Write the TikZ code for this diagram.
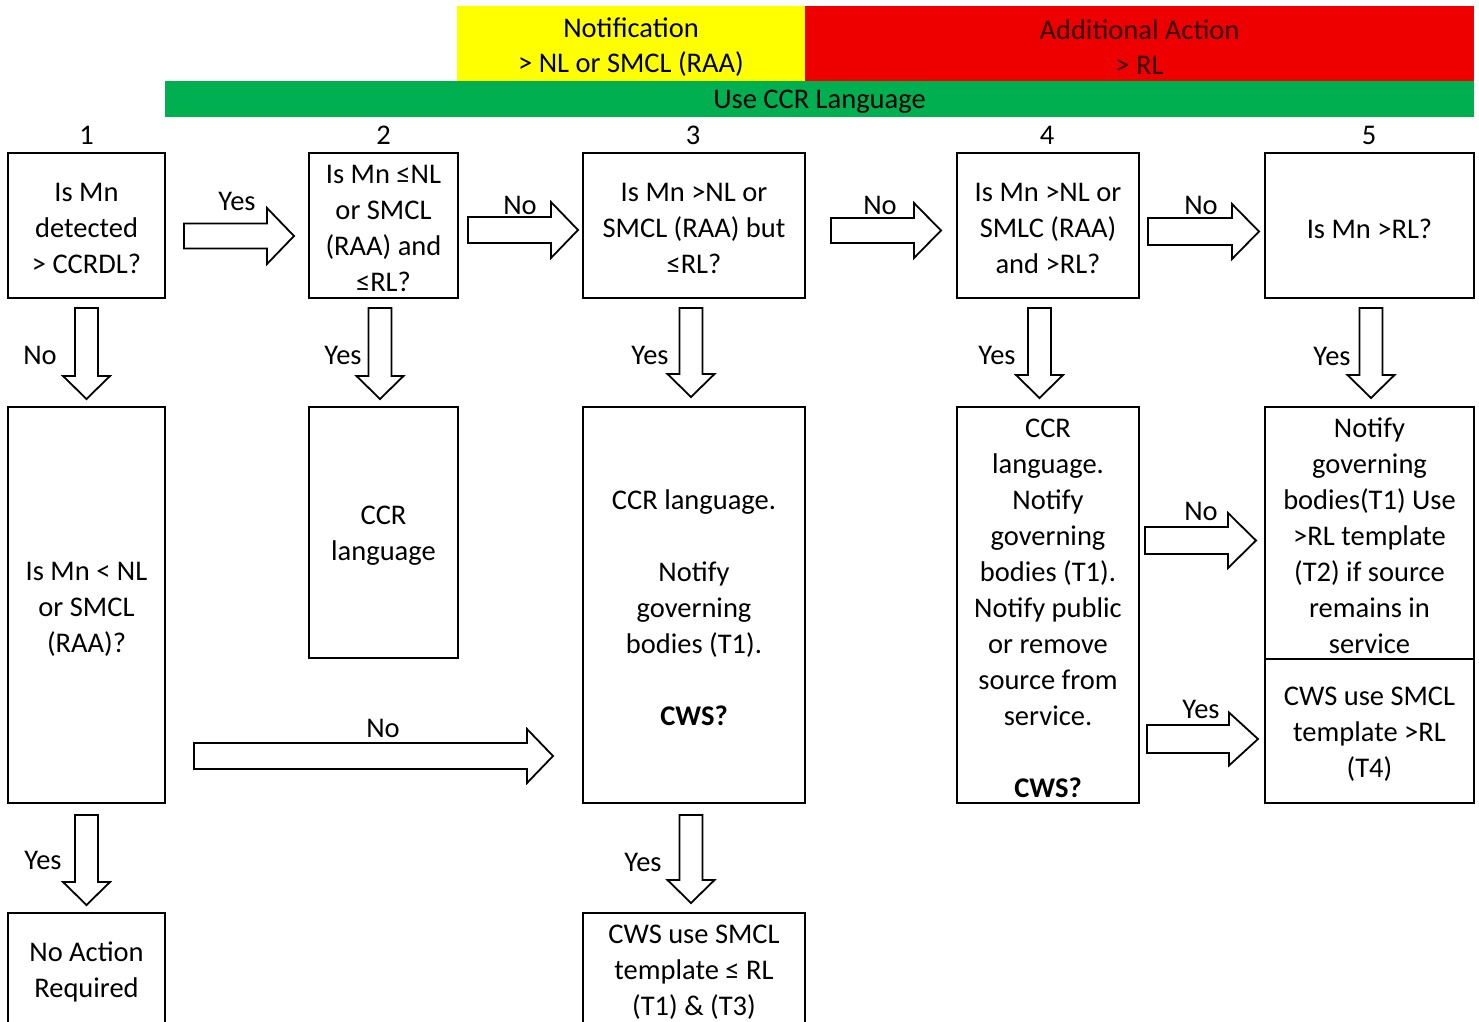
\documentclass[tikz,border=0pt]{standalone}
\usepackage{fontspec}
\setmainfont{Carlito}
\usetikzlibrary{calc}
\definecolor{bandyellow}{HTML}{FFFF00}
\definecolor{bandred}{HTML}{EE0000}
\definecolor{bandgreen}{HTML}{00B050}
\tikzset{
  box/.style={draw=black, line width=2pt, inner sep=0pt},
  txt/.style={align=center, inner sep=0pt, font=\fontsize{28.5}{36}\selectfont},
  band/.style={inner sep=0pt},
  lbl/.style={inner sep=0pt, text height=18.5pt, text depth=0pt, font=\fontsize{28.5}{36}\selectfont},
  blk/.style={draw=black, fill=white, line width=1.8pt, line join=miter}
}
% text inside a box, shifted down a little
\newcommand\boxtext[3]{\node[txt] (#1t) at ($(#1.center)+(0,#2)$) {#3};}
% right block arrow: start, tip, body half, head half, head length
\newcommand\rarr[5]{\draw[blk] let \p1=(#1), \p2=(#2) in
  (\x1,\y1+#3) -- (\x2-#5,\y1+#3) -- (\x2-#5,\y1+#4) -- (\x2,\y1) -- (\x2-#5,\y1-#4) -- (\x2-#5,\y1-#3) -- (\x1,\y1-#3) -- cycle;}
% down block arrow: start, tip
\newcommand\darr[2]{\draw[blk] let \p1=(#1), \p2=(#2) in
  (\x1-11.5pt,\y1) -- (\x1-11.5pt,\y2+23pt) -- (\x1-23.5pt,\y2+23pt) -- (\x2,\y2) -- (\x1+23.5pt,\y2+23pt) -- (\x1+11.5pt,\y2+23pt) -- (\x1+11.5pt,\y1) -- cycle;}
\begin{document}
\begin{tikzpicture}[x=1pt,y=-1pt]
\useasboundingbox (0,0) rectangle (1479,1021);
% bands
\node[band, fill=bandyellow, minimum width=348pt, minimum height=75pt] (ny) at (631,43.5) {};
\node[band, fill=bandred, minimum width=669pt, minimum height=75pt] (nr) at (1139.5,43.5) {};
\node[band, fill=bandgreen, minimum width=1309pt, minimum height=36pt] (ng) at (819.5,99) {};
\node[txt, font=\fontsize{28.5}{35}\selectfont] (nyt) at ($(ny.center)+(0,4)$) {Notification\\> NL or SMCL (RAA)};
\node[txt, font=\fontsize{28.5}{35}\selectfont, text=black!80!red] (nrt) at ($(nr.center)+(0,4)$) {Additional Action\\> RL};
\node[txt] (ngt) at ($(ng.center)+(0,3)$) {Use CCR Language};
% column numbers
\node[lbl] (n1) at (86.5,135) {1};
\node[lbl] (n2) at (383.5,135) {2};
\node[lbl] (n3) at (693,135) {3};
\node[lbl] (n4) at (1047,135) {4};
\node[lbl] (n5) at (1369,135) {5};
% row 1
\node[box, minimum width=157pt, minimum height=145pt] (b1) at (86.5,225.5) {};
\node[box, minimum width=149pt, minimum height=145pt] (b2) at (383.5,225.5) {};
\node[box, minimum width=222pt, minimum height=145pt] (b3) at (694,225.5) {};
\node[box, minimum width=182pt, minimum height=145pt] (b4) at (1048,225.5) {};
\node[box, minimum width=209pt, minimum height=145pt] (b5) at (1369.5,225.5) {};
\boxtext{b1}{3}{Is Mn\\detected\\> CCRDL?}
\boxtext{b2}{3}{Is Mn ≤NL\\or SMCL\\(RAA) and\\≤RL?}
\boxtext{b3}{3}{Is Mn >NL or\\SMCL (RAA) but\\≤RL?}
\boxtext{b4}{3}{Is Mn >NL or\\SMLC (RAA)\\and >RL?}
\boxtext{b5}{3}{Is Mn >RL?}
% row 2
\node[box, minimum width=157pt, minimum height=396pt] (c1) at (86.5,605) {};
\node[box, minimum width=149pt, minimum height=251pt] (c2) at (383.5,532.5) {};
\node[box, minimum width=222pt, minimum height=396pt] (c3) at (694,605) {};
\node[box, minimum width=182pt, minimum height=396pt] (c4) at (1048,605) {};
\node[box, minimum width=209pt, minimum height=252pt] (c5a) at (1369.5,533) {};
\node[box, minimum width=209pt, minimum height=144pt] (c5b) at (1369.5,731) {};
\boxtext{c1}{4}{Is Mn < NL\\or SMCL\\(RAA)?}
\boxtext{c2}{3}{CCR\\language}
\boxtext{c3}{3}{CCR language.\\[36pt]Notify\\governing\\bodies (T1).\\[36pt]\textbf{CWS?}}
\boxtext{c4}{3}{CCR\\language.\\Notify\\governing\\bodies (T1).\\Notify public\\or remove\\source from\\service.\\[36pt]\textbf{CWS?}}
\boxtext{c5a}{3}{Notify\\governing\\bodies(T1) Use\\>RL template\\(T2) if source\\remains in\\service}
\boxtext{c5b}{3}{CWS use SMCL\\template >RL\\(T4)}
% row 3
\node[box, minimum width=157pt, minimum height=112pt] (d1) at (86.5,969) {};
\node[box, minimum width=222pt, minimum height=112pt] (d3) at (694,969) {};
\boxtext{d1}{3}{No Action\\Required}
\boxtext{d3}{3}{CWS use SMCL\\template ≤ RL\\(T1) \& (T3)}
% arrow end coordinates
\coordinate (h12s) at (184,236);  \coordinate (h12e) at (294,236);
\coordinate (h23s) at (468,230);  \coordinate (h23e) at (578,230);
\coordinate (h34s) at (831,230.5); \coordinate (h34e) at (941,230.5);
\coordinate (h45s) at (1148,231.5); \coordinate (h45e) at (1259,231.5);
\coordinate (hnos) at (1145,540.5); \coordinate (hnoe) at (1256,540.5);
\coordinate (hyess) at (1147,739); \coordinate (hyese) at (1258,739);
\coordinate (hls) at (194,756); \coordinate (hle) at (553,756);
\coordinate (v1s) at (86.5,308); \coordinate (v1e) at (86.5,399);
\coordinate (v2s) at (380,308); \coordinate (v2e) at (380,399);
\coordinate (v3s) at (691,308); \coordinate (v3e) at (691,397);
\coordinate (v4s) at (1039.5,308); \coordinate (v4e) at (1039.5,398);
\coordinate (v5s) at (1371,308); \coordinate (v5e) at (1371,398);
\coordinate (v6s) at (86.5,815); \coordinate (v6e) at (86.5,905);
\coordinate (v7s) at (691,815); \coordinate (v7e) at (691,903);
% horizontal arrows
\rarr{h12s}{h12e}{12.5pt}{28pt}{27pt}
\rarr{h23s}{h23e}{13pt}{28pt}{27pt}
\rarr{h34s}{h34e}{12.5pt}{27.5pt}{27pt}
\rarr{h45s}{h45e}{13.5pt}{27.5pt}{27pt}
\rarr{hnos}{hnoe}{13.5pt}{27.5pt}{28pt}
\rarr{hyess}{hyese}{14pt}{26.5pt}{29pt}
\rarr{hls}{hle}{13pt}{27pt}{26pt}
% vertical arrows
\darr{v1s}{v1e}
\darr{v2s}{v2e}
\darr{v3s}{v3e}
\darr{v4s}{v4e}
\darr{v5s}{v5e}
\darr{v6s}{v6e}
\darr{v7s}{v7e}
% labels
\node[lbl] (l1) at (237,201) {Yes};
\node[lbl] (l2) at (520,205) {No};
\node[lbl] (l3) at (880,205) {No};
\node[lbl] (l4) at (1201,205) {No};
\node[lbl] (l5) at (40,355) {No};
\node[lbl] (l6) at (343,355) {Yes};
\node[lbl] (l7) at (650,355) {Yes};
\node[lbl] (l8) at (997,355) {Yes};
\node[lbl] (l9) at (1332,356) {Yes};
\node[lbl] (l10) at (1201,511) {No};
\node[lbl] (l11) at (1201,709) {Yes};
\node[lbl] (l12) at (383,728) {No};
\node[lbl] (l13) at (43,860) {Yes};
\node[lbl] (l14) at (643,862) {Yes};
\end{tikzpicture}
\end{document}
